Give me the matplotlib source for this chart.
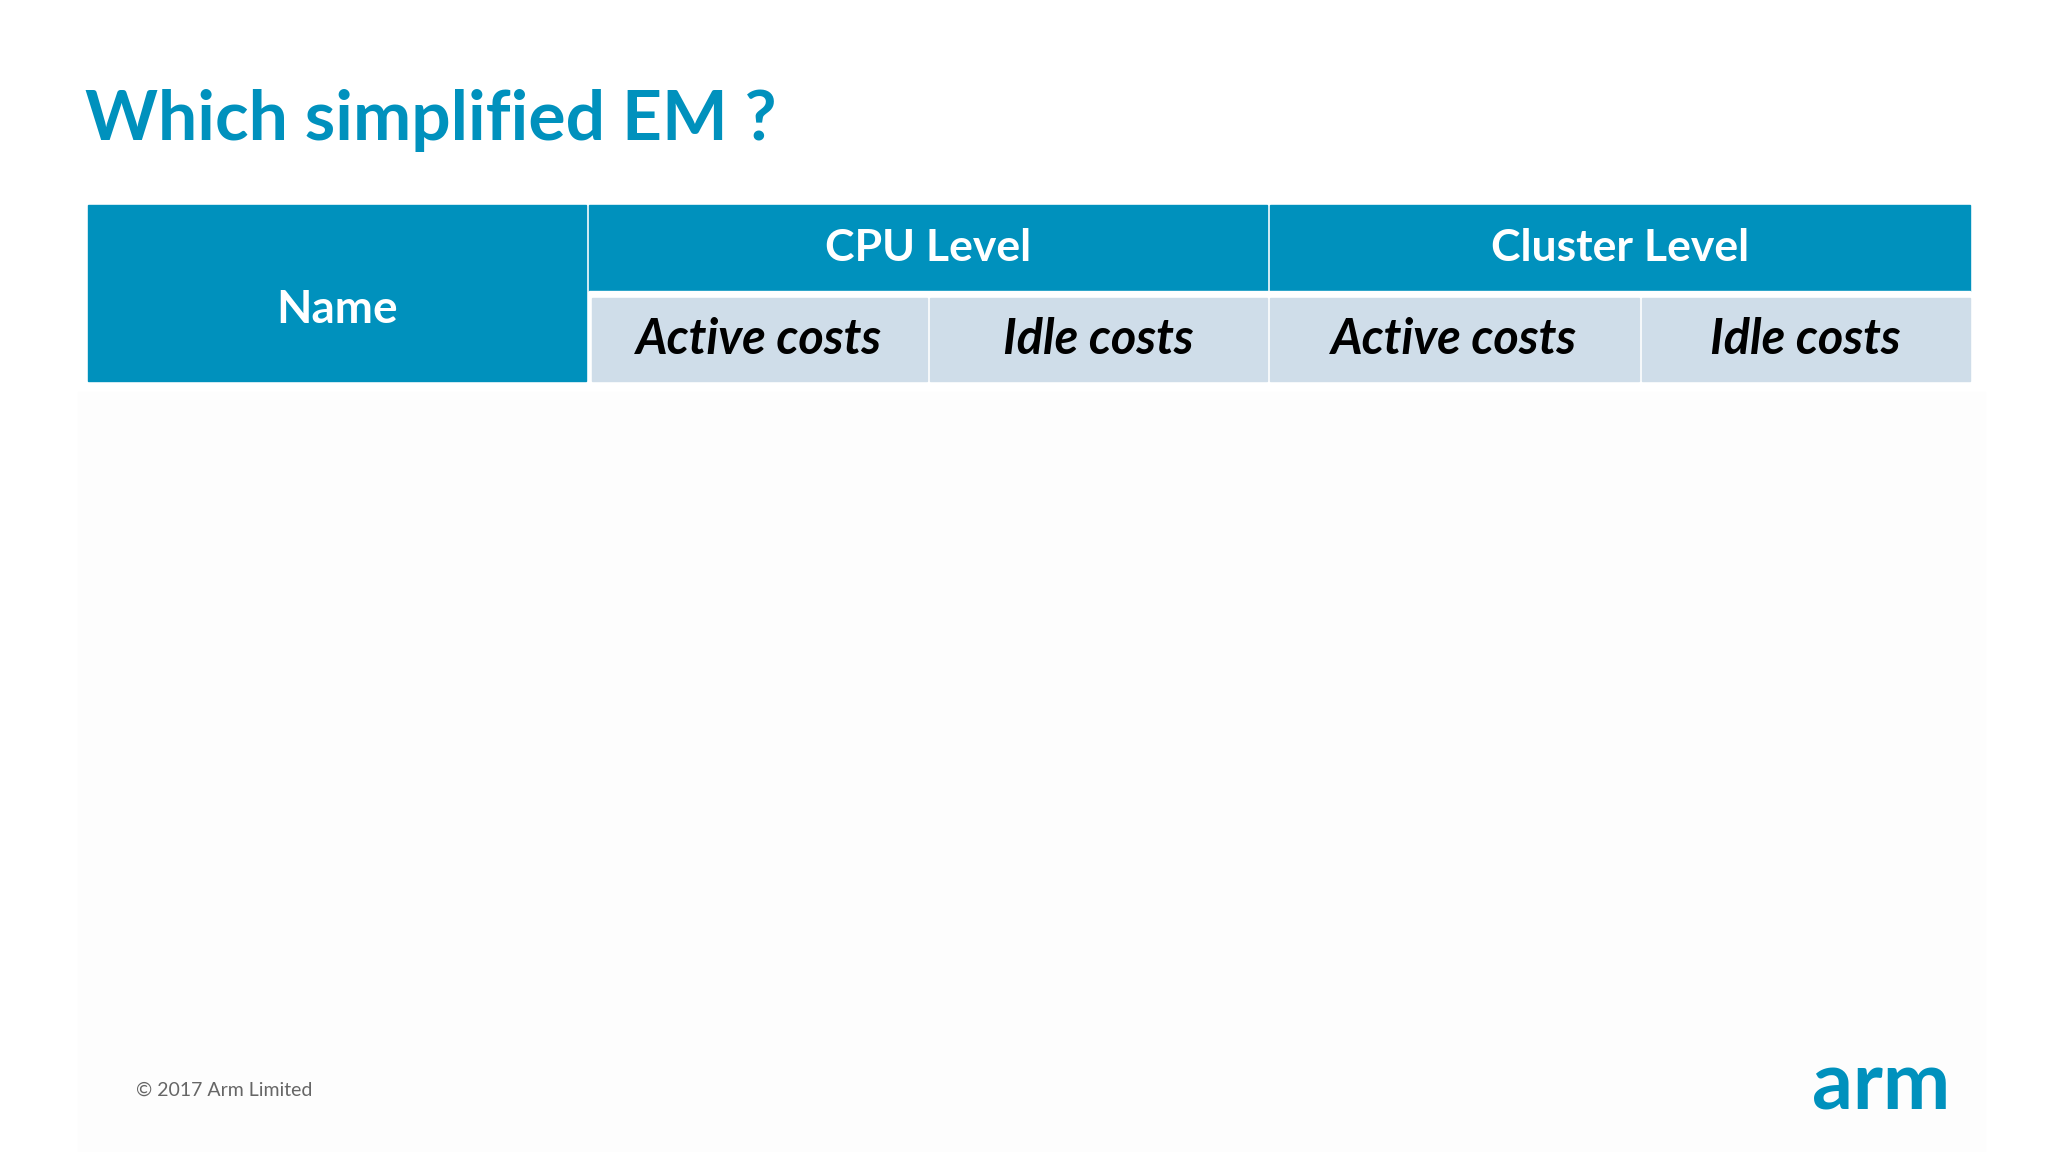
import matplotlib.pyplot as plt
from matplotlib.patches import Rectangle

title = "Which simplified EM ?"
groups = ["CPU Level", "Cluster Level"]
subheaders = ["Active costs", "Idle costs", "Active costs", "Idle costs"]
first_col = "Name"

BLUE = "#0091bd"
LIGHT = "#cfdde9"
W, H = 1568, 882

fig = plt.figure(figsize=(20.48, 11.52), dpi=100)
ax = fig.add_axes([0, 0, 1, 1])
ax.set_xlim(0, W)
ax.set_ylim(H, 0)
ax.axis("off")
fig.patch.set_facecolor("white")
ax.add_patch(Rectangle((60, 300), 1460, 582, color="#fdfdfd", zorder=0))

font = "Lato"
ax.text(65, 92, title, fontsize=50, fontweight="bold", color=BLUE, family=font, va="center")

# header
ax.add_patch(Rectangle((67, 157), 382, 135, color=BLUE))
ax.text(258, 237, first_col, fontsize=33, fontweight="bold", color="white", family=font, ha="center", va="center")
group_x = [(451, 970), (972, 1508)]
for (x0, x1), g in zip(group_x, groups):
    ax.add_patch(Rectangle((x0, 157), x1 - x0, 66, color=BLUE))
    ax.text((x0 + x1) / 2, 190, g, fontsize=32, fontweight="bold", color="white", family=font, ha="center", va="center")
ax.add_patch(Rectangle((451, 223), 1057, 69, color="white"))
sub_x = [(453, 710), (712, 970), (972, 1255), (1257, 1508)]
for (x0, x1), s in zip(sub_x, subheaders):
    ax.add_patch(Rectangle((x0, 228), x1 - x0, 64, color=LIGHT))
    ax.text((x0 + x1) / 2, 260, s, fontsize=35, fontweight="bold", style="italic", color="black", family=font, ha="center", va="center")

ax.text(104, 835, "© 2017 Arm Limited", fontsize=14, color="#666666", family=font, va="center")
ax.text(1493, 832, "arm", fontsize=58, fontweight="bold", color=BLUE, family=font, ha="right", va="center")

fig.savefig("out.png", dpi=100)
